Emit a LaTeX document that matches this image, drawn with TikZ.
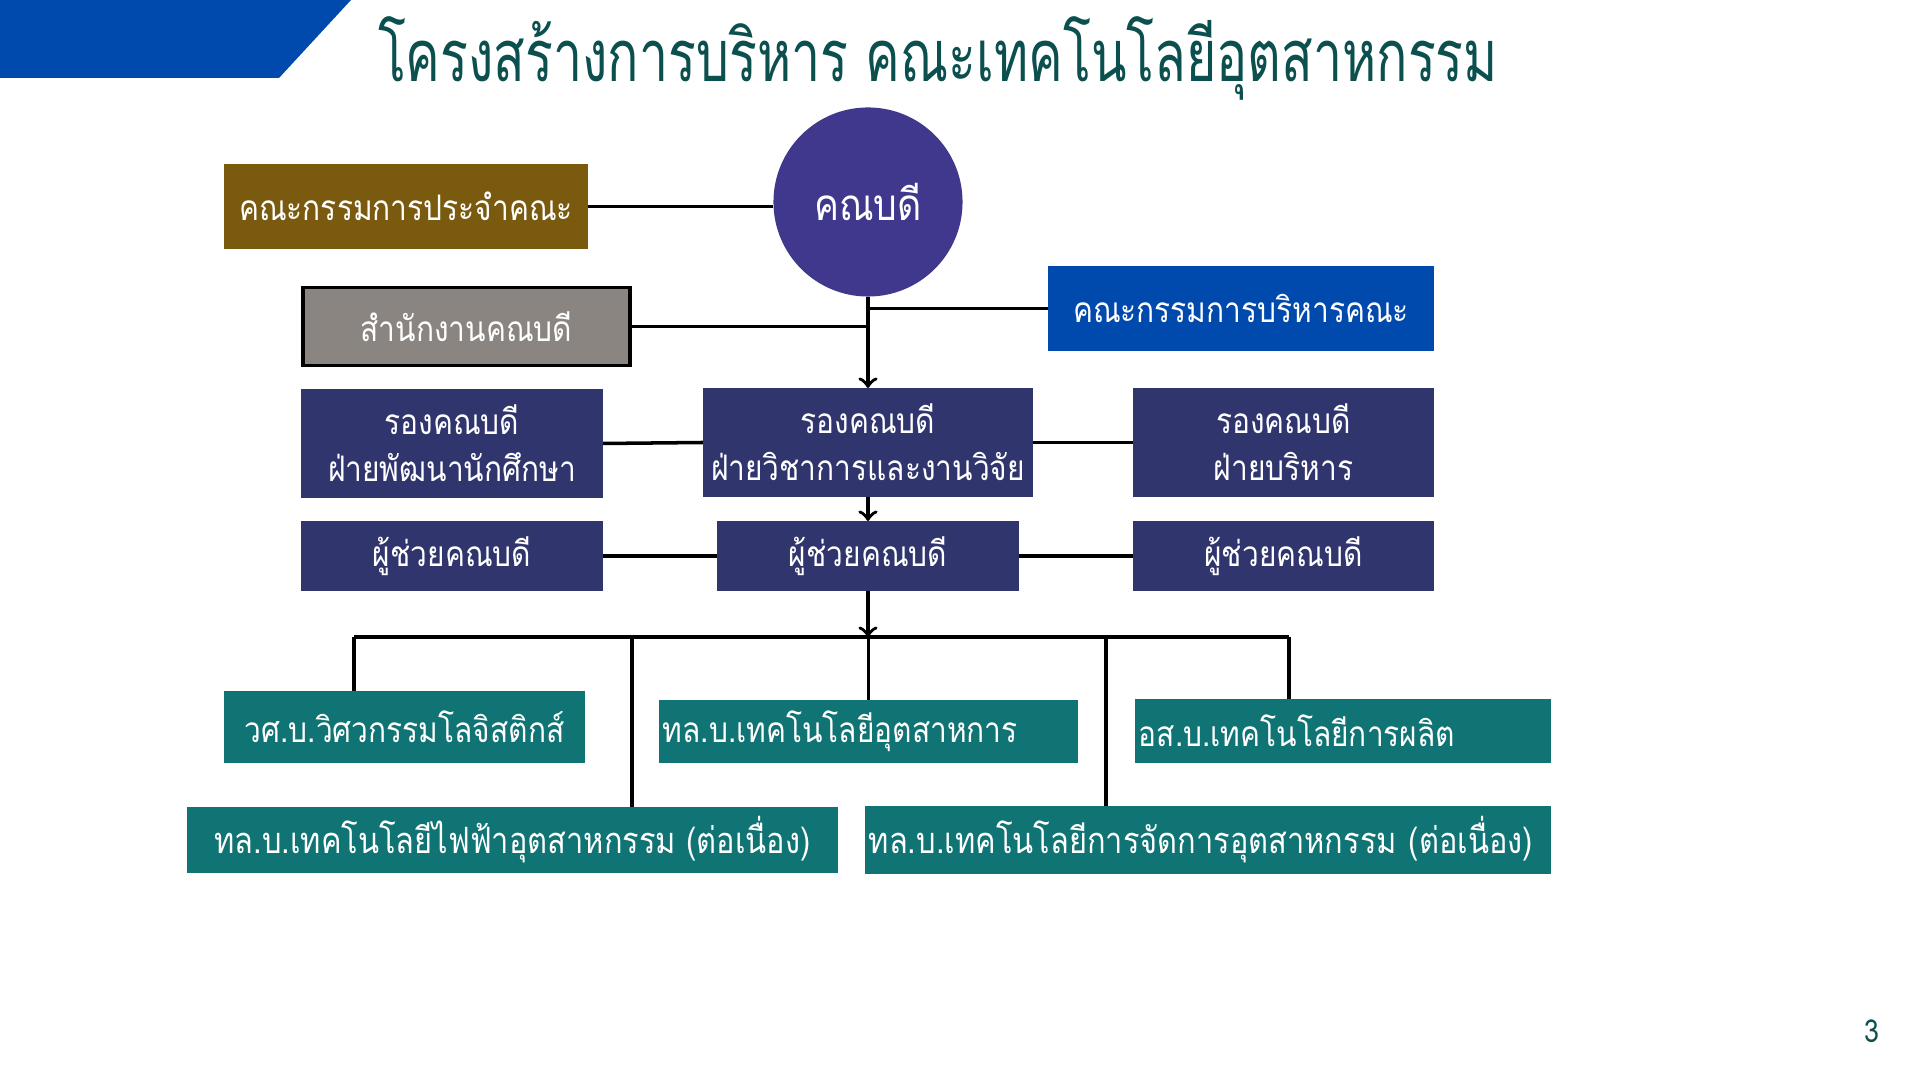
\documentclass[tikz,border=0pt]{standalone}
\usepackage{fontspec}
\newfontfamily\thaifont[Script=Thai,FakeStretch=0.85]{Loma}
\newfontfamily\titlefont[Script=Thai,FakeStretch=0.72]{Loma}
\usepackage{tikz}
\usetikzlibrary{arrows}
\definecolor{bannerblue}{HTML}{004AAD}
\definecolor{titleteal}{HTML}{0B4F4F}
\definecolor{deanpurple}{HTML}{3F388C}
\definecolor{boardbrown}{HTML}{7A5A0E}
\definecolor{officegray}{HTML}{8A8580}
\definecolor{vpnavy}{HTML}{31356E}
\definecolor{progteal}{HTML}{107475}

\begin{document}
\begin{tikzpicture}[x=0.01cm,y=-0.01cm,inner sep=0pt,outer sep=0pt,line width=1pt,
orgblock/.style={rectangle,text=white,align=center,font=\thaifont\fontsize{10}{13.4}\selectfont},
vpblock/.style={orgblock,fill=vpnavy},
progblock/.style={orgblock,fill=progteal}]
\fill[white] (0,0) rectangle (1920,1080);
\useasboundingbox (0,0) rectangle (1920,1080);
\fill[bannerblue] (0,0) -- (351,0) -- (279,78) -- (0,78) -- cycle;
\draw (378,58) node[anchor=west,text=titleteal,font=\titlefont\fontsize{20.5}{24}\selectfont] (title) {โครงสร้างการบริหาร คณะเทคโนโลยีอุตสาหกรรม};
\draw (868,202) node[circle,fill=deanpurple,text=white,minimum size=1.89cm,font=\thaifont\fontsize{12.5}{15}\selectfont] (dean) {คณบดี};
\draw (406,206.5) node[orgblock,fill=boardbrown,minimum width=3.64cm,minimum height=0.85cm] (board) {คณะกรรมการประจำคณะ};
\draw (466.5,326.5) node[orgblock,fill=officegray,draw=black,line width=1.1pt,minimum width=3.26cm,minimum height=0.78cm] (office) {สำนักงานคณบดี};
\draw (1241,308.5) node[orgblock,fill=bannerblue,minimum width=3.86cm,minimum height=0.85cm] (exec) {คณะกรรมการบริหารคณะ};
\draw (452,443.5) node[vpblock,minimum width=3.02cm,minimum height=1.09cm] (vpstud) {รองคณบดี\\ฝ่ายพัฒนานักศึกษา};
\draw (868,442.5) node[vpblock,minimum width=3.30cm,minimum height=1.09cm] (vpacad) {รองคณบดี\\ฝ่ายวิชาการและงานวิจัย};
\draw (1283.5,442.5) node[vpblock,minimum width=3.01cm,minimum height=1.09cm] (vpadm) {รองคณบดี\\ฝ่ายบริหาร};
\draw (452,556) node[vpblock,minimum width=3.02cm,minimum height=0.70cm] (asstl) {ผู้ช่วยคณบดี};
\draw (868,556) node[vpblock,minimum width=3.01cm,minimum height=0.70cm] (asstm) {ผู้ช่วยคณบดี};
\draw (1283.5,556) node[vpblock,minimum width=3.01cm,minimum height=0.70cm] (asstr) {ผู้ช่วยคณบดี};
\draw (404.5,727) node[progblock,minimum width=3.61cm,minimum height=0.72cm] (plog) {วศ.บ.วิศวกรรมโลจิสติกส์};
\draw (868.5,731.5) node[progblock,minimum width=4.19cm,minimum height=0.63cm,text width=4.11cm,align=left] (pind) {ทล.บ.เทคโนโลยีอุตสาหการ};
\draw (1343,731) node[progblock,minimum width=4.16cm,minimum height=0.64cm,text width=4.08cm,align=left] (pmfg) {อส.บ.เทคโนโลยีการผลิต};
\draw (512.5,840) node[progblock,minimum width=6.51cm,minimum height=0.66cm,font=\thaifont\fontsize{10.3}{13.4}\selectfont] (pelec) {ทล.บ.เทคโนโลยีไฟฟ้าอุตสาหกรรม (ต่อเนื่อง)};
\draw (1208,840) node[progblock,minimum width=6.86cm,minimum height=0.68cm,text width=6.78cm,align=left,font=\thaifont\fontsize{10.3}{13.4}\selectfont] (pmgt) {ทล.บ.เทคโนโลยีการจัดการอุตสาหกรรม (ต่อเนื่อง)};
\draw (1872,1031) node[text=titleteal,font=\thaifont\fontsize{9}{11}\selectfont] (pagenum) {3};
\coordinate (busl) at (354,637);
\coordinate (busa) at (632,637);
\coordinate (busb) at (1106,637);
\coordinate (busr) at (1289,637);
\draw (board.east) -- (board.east -| dean.west);
\draw[->] (dean.south) -- (vpacad.north);
\draw (office.east) -- (office.east -| dean.south);
\draw (exec.west) -- (exec.west -| dean.south);
\draw (vpstud.east) -- (vpacad.west);
\draw (vpacad.east) -- (vpadm.west);
\draw[->] (vpacad.south) -- (asstm.north);
\draw (asstl.east) -- (asstm.west);
\draw (asstm.east) -- (asstr.west);
\draw[->] (asstm.south) -- (asstm.south |- busl);
\draw (busl) -- (busr);
\draw (busl) -- (busl |- plog.north);
\draw (busa) -- (busa |- pelec.north);
\draw (pind.north |- busl) -- (pind.north);
\draw (busb) -- (busb |- pmgt.north);
\draw (busr) -- (busr |- pmfg.north);
\end{tikzpicture}
\end{document}
